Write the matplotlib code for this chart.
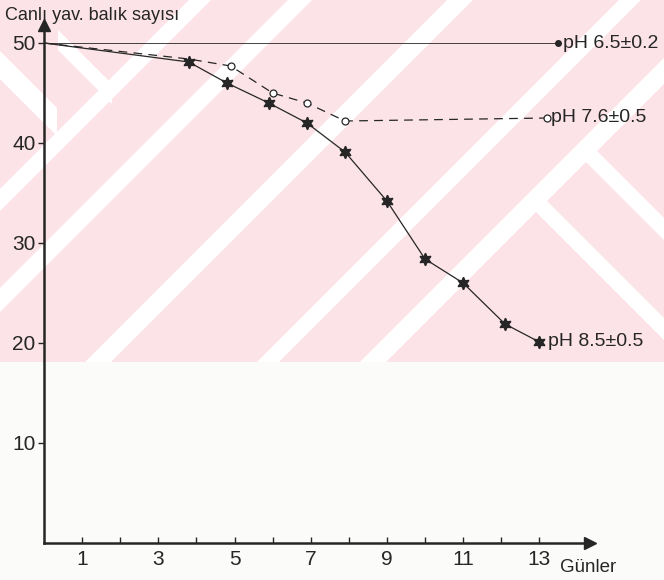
import matplotlib
matplotlib.use("Agg")
import matplotlib.pyplot as plt
from matplotlib.patches import Polygon

plt.rcParams['font.family'] = ['Liberation Sans', 'DejaVu Sans']

# pH 6.5 +- 0.2 (no deaths)
days_65 = [0, 13.5]
fish_65 = [50, 50]

# pH 7.6 +- 0.5
days_76 = [0, 3.8, 4.9, 6.0, 6.9, 7.9, 13.2]
fish_76 = [50, 48.4, 47.7, 45.0, 44.0, 42.2, 42.5]

# pH 8.5 +- 0.5
days_85 = [0, 3.8, 4.8, 5.9, 6.9, 7.9, 9.0, 10.0, 11.0, 12.1, 13.0]
fish_85 = [50, 48.1, 46.0, 44.0, 42.0, 39.1, 34.2, 28.4, 26.0, 21.9, 20.1]

x_ticks = list(range(1, 14))
x_labels = [str(d) if d % 2 else "" for d in x_ticks]
y_ticks = [10, 20, 30, 40, 50]

ink = "#262626"
pink = "#fce3e8"

fig = plt.figure(figsize=(6.64, 5.8), dpi=100, facecolor="#fbfbfa")

# scanned page watermark (pink chevrons)
bg = fig.add_axes([0, 0, 1, 1], zorder=-5)
bg.set_xlim(0, 664)
bg.set_ylim(580, 0)
bg.axis("off")
bg.add_patch(Polygon([(0, 0), (664, 0), (664, 362), (0, 362)], color=pink, lw=0))
for c, h in [(200, 11), (300, 12), (460, 13), (630, 11), (735, 13)]:
    bg.add_patch(Polygon([(c - h, 0), (c + h, 0), (c + h - 362, 362), (c - h - 362, 362)],
                         color="white", lw=0))
for x0, x1, d, h in [(0, 57, 65, 14), (58, 112, -18, 10), (535, 664, -335, 11), (585, 664, -435, 11)]:
    bg.add_patch(Polygon([(x0, x0 + d - h), (x1, x1 + d - h), (x1, x1 + d + h), (x0, x0 + d + h)],
                         color="white", lw=0))

ax = fig.add_axes([44 / 664, 37 / 580, 546 / 664, 518 / 580])
ax.patch.set_alpha(0)

ax.plot(days_65, fish_65, color=ink, lw=0.6)
ax.plot(days_65[-1], fish_65[-1], "o", color=ink, ms=4)

ax.plot(days_76, fish_76, color=ink, lw=0.9, ls=(0, (7, 5)),
        marker="o", ms=5, mfc="white", mec=ink, mew=0.9, markevery=[2, 3, 4, 5, 6])

ax.plot(days_85, fish_85, color=ink, lw=0.9, marker=(6, 1, 0), ms=9,
        mfc=ink, mec=ink, markevery=list(range(1, len(days_85))), zorder=4)

ax.annotate("pH 6.5±0.2", (days_65[-1], fish_65[-1]), xytext=(3, 0),
            textcoords="offset points", va="center", fontsize=14, color=ink,
            annotation_clip=False)
ax.annotate("pH 7.6±0.5", (days_76[-1], fish_76[-1]), xytext=(3, 0),
            textcoords="offset points", va="center", fontsize=14, color=ink,
            annotation_clip=False)
ax.annotate("pH 8.5±0.5", (days_85[-1], fish_85[-1]), xytext=(6, 0),
            textcoords="offset points", va="center", fontsize=14, color=ink,
            annotation_clip=False)

ax.set_xlim(0, 546 / 38.1)
ax.set_ylim(0, 51.8)
ax.set_xticks(x_ticks)
ax.set_xticklabels(x_labels)
ax.set_yticks(y_ticks)
ax.tick_params(axis="x", direction="in", length=4, width=1, pad=5, labelsize=15, colors=ink)
ax.tick_params(axis="y", direction="out", length=4, width=1, pad=2, labelsize=15, colors=ink)

for side in ["top", "right"]:
    ax.spines[side].set_visible(False)
for side in ["left", "bottom"]:
    ax.spines[side].set_linewidth(1.8)
    ax.spines[side].set_color(ink)

# axis arrows
ax.plot(1, 0, ">", color=ink, ms=8, transform=ax.transAxes, clip_on=False)
ax.plot(0, 1, "^", color=ink, ms=8, transform=ax.transAxes, clip_on=False)

fig.text(5 / 664, 1 - 15 / 580, "Canlı yav. balık sayısı", fontsize=13,
         color=ink, va="center", ha="left")
fig.text(560 / 664, 1 - 568 / 580, "Günler", fontsize=13.5, color=ink,
         va="center", ha="left")

fig.savefig("out.png", dpi=100, facecolor=fig.get_facecolor())
